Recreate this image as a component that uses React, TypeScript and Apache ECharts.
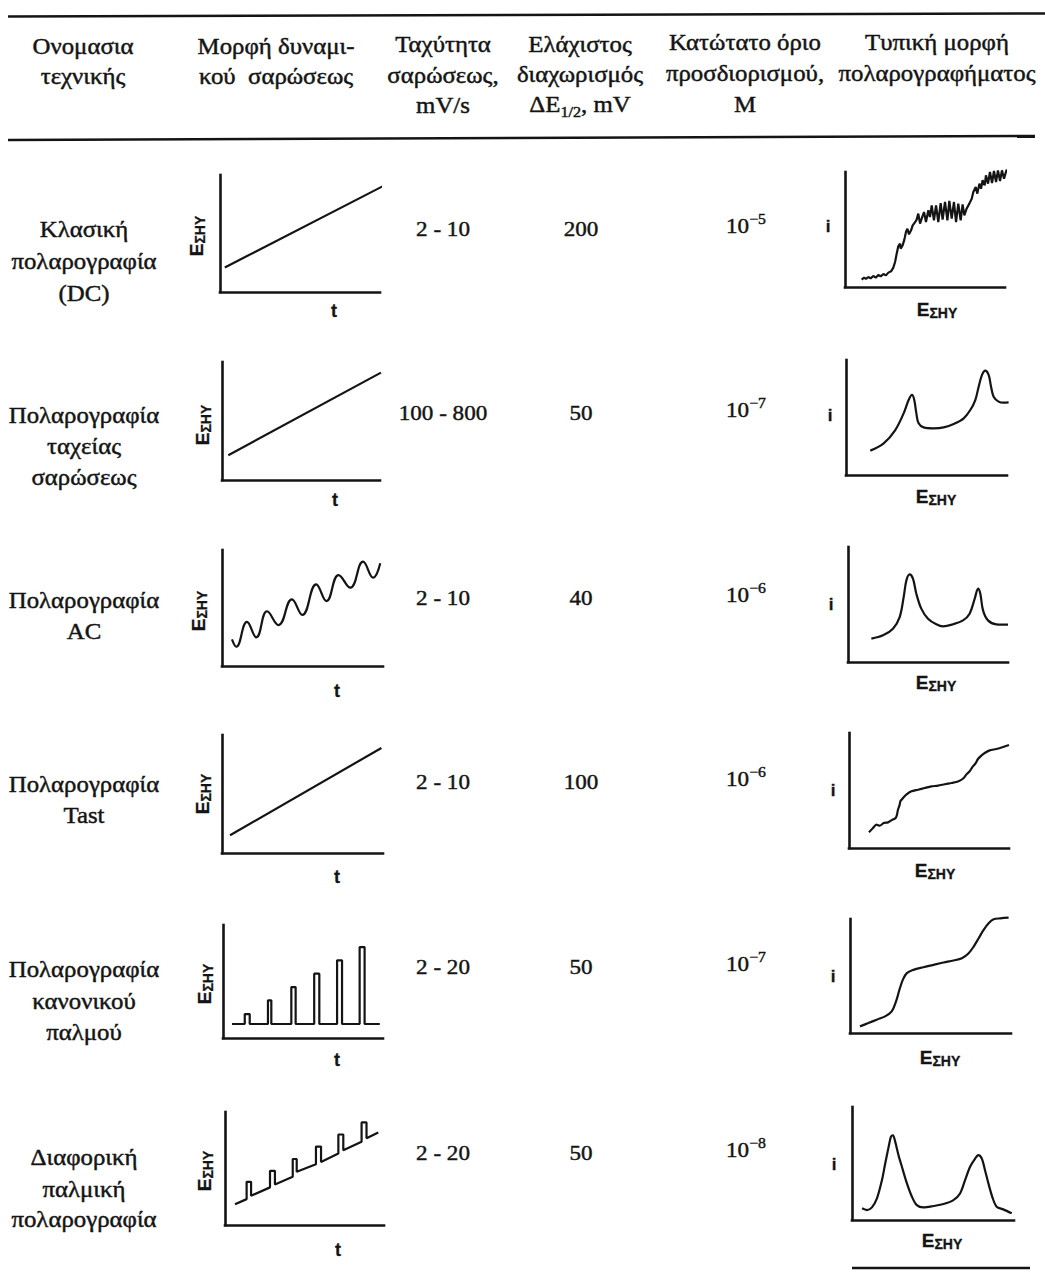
import React, { useEffect, useRef } from "react";
import * as echarts from "echarts";

// ---------------- table content ----------------
const headerColumns: string[][] = [
  ["Ονομασια", "τεχνικής"],
  ["Μορφή δυναμι-", "κού  σαρώσεως"],
  ["Ταχύτητα", "σαρώσεως,", "mV/s"],
  ["Ελάχιστος", "διαχωρισμός", "ΔE|1/2|, mV"],
  ["Κατώτατο όριο", "προσδιορισμού,", "M"],
  ["Τυπική μορφή", "πολαρογραφήματος"],
];

const techniqueNames: string[][] = [
  ["Κλασική", "πολαρογραφία", "(DC)"],
  ["Πολαρογραφία", "ταχείας", "σαρώσεως"],
  ["Πολαρογραφία", "AC"],
  ["Πολαρογραφία", "Tast"],
  ["Πολαρογραφία", "κανονικού", "παλμού"],
  ["Διαφορική", "παλμική", "πολαρογραφία"],
];
const scanRates = ["2 - 10", "100 - 800", "2 - 10", "2 - 10", "2 - 20", "2 - 20"];
const minSeparation = [200, 50, 40, 100, 50, 50];
const detectionLimitExp = [-5, -7, -6, -6, -7, -8];

// ---------------- potential waveforms E(t) (axis units 0-100) ----------------
const dcRamp = [[3, 21], [104, 92]];
const fastRamp = [[4, 21], [100.6, 91]];
const acWave = [
  [6.2, 22.9], [8.9, 16.6], [15.5, 38.0], [21.3, 24.7], [28.0, 47.2], [35.1, 35.3],
  [43.4, 57.5], [49.9, 44.0], [58.5, 70.4], [64.9, 56.0], [72.4, 78.4], [79.7, 67.5],
  [87.6, 89.9], [93.9, 76.1], [98.3, 88.5],
];
const tastRamp = [[5, 15], [99, 89]];
const npBaseline = 12.4;
const npBaseStart = 5.6;
const npBaseEnd = 98;
const npPulseStart = [13.6, 28.1, 42.7, 57.0, 71.3, 85.4];
const npPulseEnd = [16.7, 30.2, 45.4, 60.2, 74.4, 88.5];
const npPulseTop = [21.2, 33.3, 45.1, 56.9, 68.7, 80.5];
const dpWave = [
  [6.3, 18.3], [13.6, 22.9], [13.6, 38.2], [16.4, 38.2], [16.4, 25.9],
  [28.3, 33.3], [28.3, 47.9], [31.4, 47.9], [31.4, 35.9],
  [42.6, 42.7], [42.6, 58.4], [45.1, 58.4], [45.1, 47.1],
  [57.2, 53.8], [57.2, 69.4], [60.4, 69.4], [60.4, 55.8],
  [71.3, 63.3], [71.3, 80.1], [74.4, 80.1], [74.4, 66.2],
  [85.9, 73.7], [85.9, 90.8], [89.0, 90.8], [89.0, 76.7],
  [96.4, 81.8],
];

// ---------------- polarograms i(E) (axis units 0-100) ----------------
const dcPolarogram = [
  [10.4, 6.4], [11.9, 8.1], [13.1, 7.0], [14.6, 8.7], [16.0, 7.5], [17.7, 9.6], [19.2, 8.1],
  [20.8, 10.4], [22.3, 9.3], [24.0, 11.3], [25.6, 10.1], [27.1, 12.5], [28.8, 13.6], [30.2, 16.8],
  [31.3, 21.7], [32.3, 29.0], [33.3, 35.4], [34.4, 37.7], [34.8, 33.3], [36.0, 36.2], [37.1, 41.2],
  [38.1, 47.8], [39.0, 50.7], [40.0, 45.8], [41.3, 49.3], [42.3, 53.6], [43.8, 56.5], [44.8, 58.6],
  [45.8, 63.8], [46.9, 55.1], [48.3, 60.9], [49.4, 65.2], [50.6, 56.5], [52.1, 66.7], [53.1, 60.9],
  [54.2, 71.0], [55.6, 58.0], [56.9, 71.0], [58.3, 56.5], [59.8, 73.0], [61.0, 58.6], [62.5, 73.9],
  [64.0, 58.0], [65.2, 74.8], [66.7, 59.4], [68.1, 73.9], [69.4, 56.5], [70.8, 72.5], [72.3, 58.0],
  [73.5, 71.9], [74.6, 62.3], [76.0, 68.1], [77.7, 72.5], [79.2, 76.8], [80.2, 82.6], [81.7, 87.0],
  [82.7, 81.2], [84.0, 89.9], [85.0, 85.5], [86.0, 92.8], [87.3, 88.4], [88.1, 97.1], [89.4, 89.9],
  [90.6, 100], [91.9, 90.4], [93.1, 100.9], [94.4, 91.3], [95.6, 101.4], [96.9, 92.2], [98.1, 101.4],
  [99.4, 94.2], [101, 102], [102, 100],
];
const fastPolarogram = [
  [15.1, 21.2], [23.4, 27.5], [30.6, 39.1], [35.8, 53.6], [38.9, 65.2], [41.0, 69.6], [42.4, 65.2],
  [43.7, 53.6], [45.1, 44.9], [48.2, 41.4], [54.5, 40.6], [60.7, 41.4], [66.9, 44.3], [73.1, 49.3],
  [77.2, 56.5], [80.3, 65.2], [82.4, 76.8], [84.5, 87.0], [86.5, 90.7], [88.6, 87.0], [90.1, 76.8],
  [91.7, 68.1], [94.8, 63.8], [97.9, 62.9], [101, 63.2],
];
const acPolarogram = [
  [14.6, 20.3], [21.9, 23.2], [28.1, 29.0], [32.3, 39.1], [34.8, 56.5], [36.5, 71.0], [38.5, 76.2],
  [40.6, 72.5], [42.7, 59.4], [45.8, 46.4], [50.0, 37.7], [55.2, 32.8], [59.4, 31.0], [65.6, 32.8],
  [71.9, 36.2], [76.0, 42.0], [79.2, 55.1], [81.3, 63.8], [82.7, 59.4], [84.4, 44.9], [87.5, 36.2],
  [92.7, 32.8], [100, 32.5],
];
const tastPolarogram = [
  [12.5, 13.6], [15.0, 17.4], [17.1, 20.3], [19.2, 19.4], [21.7, 21.7], [24.4, 22.3], [27.1, 24.6],
  [29.2, 26.1], [30.0, 29.0], [30.6, 33.3], [31.7, 37.7], [32.1, 40.6], [33.8, 43.5], [35.8, 46.4],
  [39.0, 49.3], [43.1, 50.7], [47.3, 52.2], [51.5, 53.6], [55.6, 54.2], [59.8, 55.4], [64.0, 56.5],
  [67.1, 57.4], [69.6, 58.8], [71.7, 60.9], [73.3, 63.8], [75.4, 66.7], [77.1, 70.4], [79.2, 73.9],
  [80.6, 77.4], [82.7, 80.3], [84.8, 82.6], [87.9, 84.9], [92.1, 86.1], [96.3, 87.8], [100, 89.6],
];
const npPolarogram = [
  [6.2, 5.8], [11.4, 8.7], [16.6, 11.7], [21.8, 14.6], [25.9, 19.0], [28.6, 27.7], [30.7, 37.9],
  [32.8, 46.6], [35.3, 52.5], [39.4, 55.4], [45.6, 57.7], [51.9, 59.8], [58.1, 61.8], [64.3, 63.6],
  [69.5, 65.6], [73.7, 70.0], [76.8, 75.8], [79.9, 83.1], [83.0, 90.4], [86.1, 96.2], [89.2, 99.7],
  [93.4, 100.6], [98.5, 101.2],
];
const dpPolarogram = [
  [6.2, 10.3], [9.2, 8.8], [12.3, 11.2], [15.4, 19.1], [18.5, 35.3], [20.5, 50.0], [22.6, 64.7],
  [24.0, 73.5], [25.3, 75.0], [26.7, 69.1], [28.7, 57.4], [30.8, 47.1], [33.9, 32.4], [37.0, 20.6],
  [40.0, 13.2], [44.1, 11.2], [50.3, 12.4], [56.5, 14.1], [62.6, 17.6], [66.7, 23.5], [69.8, 35.3],
  [72.9, 47.1], [76.0, 54.4], [78.0, 57.4], [80.1, 54.4], [82.1, 44.1], [84.2, 32.4], [86.9, 19.1],
  [89.3, 11.8], [93.4, 9.4], [98.6, 5.9],
];

// ---------------- layout (pixels) ----------------
const W = 1045;
const H = 1273;
const INK = "#141414";
const SERIF = '"Liberation Serif", "DejaVu Serif", serif';
const SANS = '"Liberation Sans", "DejaVu Sans", sans-serif';
const headerX = [83, 276, 443, 580, 745, 937];
const headerY = [[46, 76], [46, 76], [44, 75, 105], [44, 74, 104], [42, 73, 104], [42, 73]];
const rowLabelX = 84;
const rowLabelY = [[229, 261, 293], [415, 446, 477], [600, 631], [784, 815], [969, 1001, 1032], [1157, 1189, 1219]];
const valueY = [229, 413, 598, 782, 967, 1153];
const rateX = 443;
const sepX = 581;
const limitX = 746;
// [left, top, right, bottom]
const leftFrames = [[220, 175, 380, 292], [222, 362, 380, 480], [222, 550, 383, 666], [222, 735, 383, 853], [223, 925, 383, 1038], [225, 1112, 384, 1225]];
const rightFrames = [[845, 172, 1005, 287], [846, 360, 1007, 475], [848, 547, 1008, 662], [849, 733, 1009, 848], [850, 919, 1011, 1033], [852, 1107, 1014, 1220]];
const leftELabel = [[196, 236], [202, 425], [198, 611], [202, 794], [204, 984], [204, 1171]];
const tLabel = [[334, 311], [335, 500], [337, 691], [337, 877], [337, 1060], [338, 1250]];
const iLabel = [[828, 226], [830, 415], [831, 604], [833, 790], [833, 976], [834, 1164]];
const rightELabel = [[937, 309], [936, 496], [936, 682], [935, 870], [940, 1057], [942, 1240]];
const TEXT_SCALE = 1.08;
const NUM_SCALE = 1.05;

function buildNormalPulse(): number[][] {
  const pts: number[][] = [[npBaseStart, npBaseline]];
  npPulseStart.forEach((s, i) => {
    pts.push([s, npBaseline], [s, npPulseTop[i]], [npPulseEnd[i], npPulseTop[i]], [npPulseEnd[i], npBaseline]);
  });
  pts.push([npBaseEnd, npBaseline]);
  return pts;
}

function text(x: number, y: number, t: string, extra: any = {}, elExtra: any = {}) {
  return {
    type: "text",
    x,
    y,
    silent: true,
    ...elExtra,
    style: {
      text: t,
      fill: INK,
      stroke: INK,
      lineWidth: 0.45,
      fontFamily: SERIF,
      fontSize: 23,
      align: "center",
      verticalAlign: "middle",
      textAlign: "center",
      textVerticalAlign: "middle",
      ...extra,
    },
  };
}

function eLabel(x: number, y: number, rotated: boolean) {
  return text(
    x,
    y,
    "{e|E}{s|ΣΗΥ}",
    {
      lineWidth: 0.3,
      rich: {
        e: { fontFamily: SANS, fontWeight: "bold", fontSize: 19, lineHeight: 22, fill: INK, verticalAlign: "middle" },
        s: { fontFamily: SANS, fontWeight: "bold", fontSize: 14, lineHeight: 15, fill: INK, verticalAlign: "bottom" },
      },
    },
    rotated ? { rotation: Math.PI / 2 } : {}
  );
}

function buildOption() {
  const waveforms = [dcRamp, fastRamp, acWave, tastRamp, buildNormalPulse(), dpWave];
  const waveSmooth: any[] = [false, false, 0.45, false, false, false];
  const polarograms = [dcPolarogram, fastPolarogram, acPolarogram, tastPolarogram, npPolarogram, dpPolarogram];
  const polSmooth: any[] = [false, 0.35, 0.35, 0.25, 0.35, 0.3];

  const frames = [...leftFrames, ...rightFrames];
  const datas = [...waveforms, ...polarograms];
  const smooths = [...waveSmooth, ...polSmooth];

  const grid = frames.map(([l, t, r, b]) => ({ left: l, top: t, width: r - l, height: b - t, containLabel: false }));
  const axisCommon = (i: number) => ({
    type: "value",
    gridIndex: i,
    min: 0,
    max: 100,
    axisLine: { show: true, onZero: false, lineStyle: { color: INK, width: 2.6, cap: "square" } },
    axisTick: { show: false },
    axisLabel: { show: false },
    splitLine: { show: false },
  });
  const xAxis = frames.map((_, i) => axisCommon(i));
  const yAxis = frames.map((_, i) => axisCommon(i));
  const series = datas.map((d, i) => ({
    type: "line",
    xAxisIndex: i,
    yAxisIndex: i,
    data: d,
    symbol: "none",
    showSymbol: false,
    smooth: smooths[i],
    clip: false,
    silent: true,
    lineStyle: { color: INK, width: 2.2 },
  }));

  const g: any[] = [];
  // rules
  g.push({ type: "line", silent: true, shape: { x1: 8, y1: 16.5, x2: 1045, y2: 13.5 }, style: { stroke: INK, lineWidth: 2.5 } });
  g.push({ type: "line", silent: true, shape: { x1: 8, y1: 140, x2: 1035, y2: 136 }, style: { stroke: INK, lineWidth: 2.5 } });
  g.push({ type: "line", silent: true, shape: { x1: 852, y1: 1268, x2: 1030, y2: 1268 }, style: { stroke: INK, lineWidth: 2.5 } });

  const sx = { scaleX: TEXT_SCALE };
  const nx = { scaleX: NUM_SCALE };

  // header
  headerColumns.forEach((lines, c) => {
    lines.forEach((ln, r) => {
      const y = headerY[c][r];
      if (ln.includes("|")) {
        const [a, sub, b] = ln.split("|");
        g.push(
          text(
            headerX[c],
            y,
            `{b|${a}}{sub|${sub}}{b|${b}}`,
            {
              rich: {
                b: { fontFamily: SERIF, fontSize: 23, lineHeight: 30, fill: INK, verticalAlign: "middle" },
                sub: { fontFamily: SERIF, fontSize: 15, lineHeight: 15, fill: INK, verticalAlign: "bottom" },
              },
            },
            sx
          )
        );
      } else {
        g.push(text(headerX[c], y, ln, {}, sx));
      }
    });
  });

  // rows
  techniqueNames.forEach((lines, r) => {
    lines.forEach((ln, k) => g.push(text(rowLabelX, rowLabelY[r][k], ln, {}, sx)));
    g.push(text(rateX, valueY[r], scanRates[r], { fontSize: 22 }, nx));
    g.push(text(sepX, valueY[r], String(minSeparation[r]), { fontSize: 22 }, nx));
    g.push(
      text(
        limitX,
        valueY[r] - 3,
        `{b|10}{sup|−${Math.abs(detectionLimitExp[r])}}`,
        {
          rich: {
            b: { fontFamily: SERIF, fontSize: 22, lineHeight: 30, fill: INK, verticalAlign: "middle" },
            sup: { fontFamily: SERIF, fontSize: 15, lineHeight: 15, fill: INK, verticalAlign: "top" },
          },
        },
        nx
      )
    );
    // chart labels
    g.push(eLabel(leftELabel[r][0], leftELabel[r][1], true));
    g.push(text(tLabel[r][0], tLabel[r][1], "t", { fontFamily: SANS, fontWeight: "bold", fontSize: 18, lineWidth: 0.3 }));
    g.push(text(iLabel[r][0], iLabel[r][1], "i", { fontFamily: SANS, fontWeight: "bold", fontSize: 17, lineWidth: 0.3 }));
    g.push(eLabel(rightELabel[r][0], rightELabel[r][1], false));
  });

  return {
    animation: false,
    backgroundColor: "#ffffff",
    grid,
    xAxis,
    yAxis,
    series,
    graphic: { elements: g },
  };
}

export default function App() {
  const ref = useRef<HTMLDivElement>(null);
  useEffect(() => {
    if (!ref.current) return;
    const chart = echarts.init(ref.current, undefined, { renderer: "svg", width: W, height: H });
    chart.setOption(buildOption() as any);
    return () => chart.dispose();
  }, []);
  return <div ref={ref} style={{ position: "absolute", left: 0, top: 0, width: W, height: H, background: "#fff" }} />;
}
